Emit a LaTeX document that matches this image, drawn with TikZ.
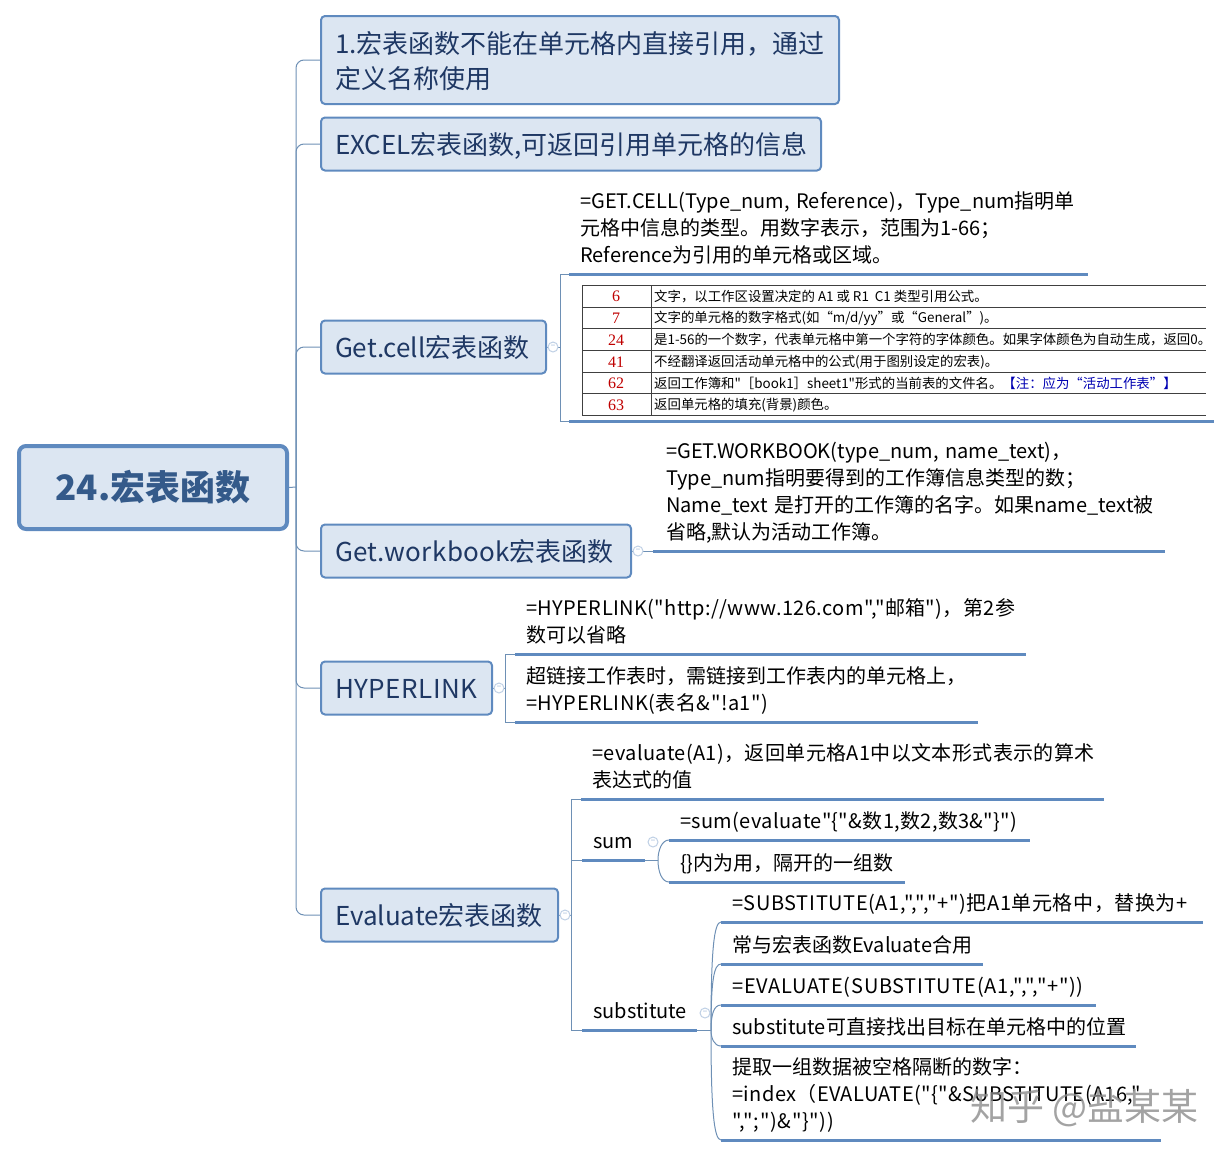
\documentclass[tikz,border=0pt]{standalone}
\usepackage{fontspec}
\usepackage{xcolor}
\setmainfont{Noto Sans CJK SC}[Ligatures=TeXOff]
\newfontfamily\numfont{Liberation Serif}
\newcommand{\wide}[2]{{\addfontfeature{LetterSpace=#1}#2}}
\definecolor{boxfill}{HTML}{DCE6F2}
\definecolor{boxline}{HTML}{5F8ABF}
\definecolor{linkline}{HTML}{6E90B5}
\definecolor{darktext}{HTML}{1F3864}
\definecolor{roottext}{HTML}{345A8A}
\tikzset{
  rootbox/.style={draw=boxline, line width=4, fill=boxfill, rounded corners=7, anchor=west, minimum width=268, minimum height=83, text=roottext, font=\fontsize{35}{40}\selectfont\bfseries},
  topic/.style={draw=boxline, line width=2, fill=boxfill, rounded corners=4, anchor=west, text width=#1, inner xsep=14, inner ysep=8, minimum height=53, align=left, text=darktext, font=\fontsize{26}{35}\selectfont, execute at begin node={\rule{0pt}{28pt}}, execute at end node={\rule[-7pt]{0pt}{7pt}}},
  leaf/.style={anchor=south west, text width=#1, inner xsep=11, inner ysep=3, align=left, font=\fontsize{20}{27}\selectfont, execute at end node={\rule[-8pt]{0pt}{8pt}}},
  uline/.style={draw=boxline, line width=3},
  link/.style={draw=linkline, line width=1},
  fold/.style={circle, draw=boxline!40, fill=white, line width=1, minimum size=10, inner sep=0, text=boxline!70, font=\fontsize{8}{8}\selectfont},
}
\begin{document}
\begin{tikzpicture}[x=1pt,y=-1pt]
\useasboundingbox (0,0) rectangle (1232,1157);
% main topics
\node (root) [rootbox] at (17,487.5) {24.宏表函数};
\node (one) [topic=490, minimum height=88] at (320,60) {1.宏表函数不能在单元格内直接引用，通过\\定义名称使用};
\node (excel) [topic=472] at (320,144) {EXCEL宏表函数,可返回引用单元格的信息};
\node (getcell) [topic=197] at (320,347) {Get.cell宏表函数};
\node (getwb) [topic=282] at (320,551) {\wide{1.2}{Get.workbook}宏表函数};
\node (hyper) [topic=143] at (320,688) {\wide{2}{HYPERLINK}};
\node (evalf) [topic=209] at (320,915) {Evaluate宏表函数};
% hubs
\coordinate (hubroot) at (296,487);
\coordinate (hubcell) at (560,347);
\coordinate (hubhyper) at (505,688);
\coordinate (hubeval) at (571,915);
\coordinate (hubsum) at (658,860);
\coordinate (hubsub) at (711,1030);
% leaves
\node (cella) [leaf=497] at (569,274) {=GET.CELL(Type\_num, Reference)，Type\_num指明单\\元格中信息的类型。用数字表示，范围为1-66；\\Reference为引用的单元格或区域。};
\node (cellb) [leaf=623, minimum height=130] at (569,421) {};
\node (wba) [leaf=486, inner xsep=13] at (653,551) {=GET.WORKBOOK(type\_num, name\_text)，\\Type\_num指明要得到的工作簿信息类型的数；\\Name\_text 是打开的工作簿的名字。如果name\_text被\\省略,默认为活动工作簿。};
\node (hypa) [leaf=489] at (515,654) {\wide{2}{=HYPERLINK("http://www.126.com","邮箱")，第2参}\\数可以省略};
\node (hypb) [leaf=441] at (515,722) {超链接工作表时，需链接到工作表内的单元格上，\\\wide{2.5}{=HYPERLINK(表名\&"!a1")}};
\node (eva) [leaf=501] at (581,799) {\wide{1.9}{=evaluate(A1)，返回单元格A1中以文本形式表示的算术}\\表达式的值};
\node (sumn) [leaf=41] at (582,860) {sum};
\node (subn) [leaf=93] at (582,1030) {substitute};
\node (suma) [leaf=339] at (669,840) {\wide{1.7}{=sum(evaluate"\{"\&数1,数2,数3\&"\}")}};
\node (sumb) [leaf=214] at (669,882) {\{\}内为用，隔开的一组数};
\node (suba) [leaf=460] at (721,922) {\wide{3}{=SUBSTITUTE(A1,",","+")把A1单元格中，替换为+}};
\node (subb) [leaf=240] at (721,964) {常与宏表函数Evaluate合用};
\node (subc) [leaf=353] at (721,1005) {\wide{3.6}{=EVALUATE(SUBSTITUTE(A1,",","+"))}};
\node (subd) [leaf=393] at (721,1046) {substitute可直接找出目标在单元格中的位置};
\node (sube) [leaf=418] at (721,1140) {提取一组数据被空格隔断的数字：\\\wide{2}{=index（EVALUATE("\{"\&SUBSTITUTE(A16,"}\\\wide{3.3}{",";")\&"\}"))}};
% table
\foreach \rowy in {285,307,328,350,372,393,415}
  \draw[draw=black!75, line width=1] (582,\rowy) -- (1206,\rowy);
\foreach \colx in {582,651}
  \draw[draw=black!75, line width=1] (\colx,285) -- (\colx,415);
\foreach \id/\rowy/\rowtext in {6/296.5/{文字，以工作区设置决定的 A1 或 R1 \ C1 类型引用公式。},7/318.5/{文字的单元格的数字格式(如“m/d/yy”或“General”)。},24/340/{是1-56的一个数字，代表单元格中第一个字符的字体颜色。如果字体颜色为自动生成，返回0。},41/362/{不经翻译返回活动单元格中的公式(用于图别设定的宏表)。},62/383.5/{返回工作簿和"［book1］sheet1"形式的当前表的文件名。\textcolor{blue!70!black}{【注：应为“活动工作表”】}},63/405/{返回单元格的填充(背景)颜色。}}{
  \node (num\id) [text=red!75!black, font=\numfont\fontsize{16}{16}\selectfont] at (616,\rowy) {\id};
  \node (txt\id) [anchor=west, inner xsep=0, inner ysep=0, font=\fontsize{13.4}{15}\selectfont] at (654,\rowy) {\rowtext};
}
% connectors
\draw[link] (root.east) -- (hubroot);
\foreach \t in {one,excel,getcell,getwb,hyper,evalf}
  \draw[link, rounded corners=8] (hubroot) |- (\t.west);
\draw[link] (getcell.east) -- (hubcell);
\foreach \t in {cella,cellb}
  \draw[link] (hubcell) |- (\t.south west);
\draw[link] (getwb.east) -- (wba.south west);
\draw[link] (hyper.east) -- (hubhyper);
\foreach \t in {hypa,hypb}
  \draw[link] (hubhyper) |- (\t.south west);
\draw[link] (evalf.east) -- (hubeval);
\foreach \t in {eva,sumn,subn}
  \draw[link] (hubeval) |- (\t.south west);
\draw[link] (sumn.south east) -- (hubsum);
\draw[link] (subn.south east) -- (hubsub);
\draw[link] (hubsum) to[out=90,in=180,out distance=10,in distance=7] (suma.south west);
\draw[link] (hubsum) to[out=-90,in=180,out distance=12,in distance=7] (sumb.south west);
\foreach \t/\bend in {suba/80,subb/50,subc/16}
  \draw[link] (hubsub) to[out=90,in=180,out distance=\bend,in distance=7] (\t.south west);
\foreach \t/\bend in {subd/8,sube/80}
  \draw[link] (hubsub) to[out=-90,in=180,out distance=\bend,in distance=7] (\t.south west);
% underlines
\foreach \t in {cella,cellb,wba,hypa,hypb,eva,sumn,subn,suma,sumb,suba,subb,subc,subd,sube}
  \draw[uline] (\t.south west) -- (\t.south east);
% fold marks
\node (foldcell) [fold] at (553,347) {−};
\node (foldwb) [fold] at (638,551) {−};
\node (foldhyper) [fold] at (499,688) {−};
\node (foldeval) [fold] at (565,915) {−};
\node (foldsum) [fold] at (653,842) {−};
\node (foldsub) [fold] at (705,1013) {−};
% watermark
\node (mark) [anchor=west, inner sep=0, text=black!45, opacity=.8, font=\fontsize{37}{40}\selectfont] at (970,1108) {知乎 @盐某某};
\end{tikzpicture}
\end{document}
